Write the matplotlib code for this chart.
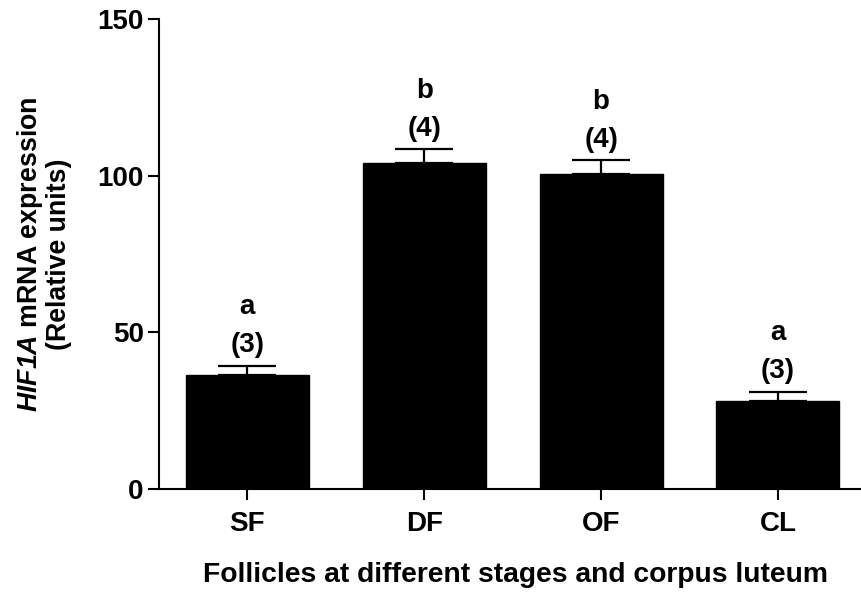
import matplotlib
matplotlib.use("Agg")
import matplotlib.pyplot as plt
import numpy as np

categories = ["SF", "DF", "OF", "CL"]
means = [36.4, 104.0, 100.5, 28.1]
sem = [3.0, 4.5, 4.5, 3.0]
letters = ["a", "b", "b", "a"]
ns = ["(3)", "(4)", "(4)", "(3)"]
yticks = [0, 50, 100, 150]

plt.rcParams['font.family'] = ['Liberation Sans', 'DejaVu Sans']
plt.rcParams['font.weight'] = 'bold'
plt.rcParams['mathtext.fontset'] = 'custom'
plt.rcParams['mathtext.rm'] = 'Liberation Sans:bold'
plt.rcParams['mathtext.bf'] = 'Liberation Sans:bold'
plt.rcParams['mathtext.it'] = 'Liberation Sans:italic:bold'
plt.rcParams['mathtext.bfit'] = 'Liberation Sans:italic:bold'

fig = plt.figure(figsize=(8.61, 5.92), dpi=100)
ax = fig.add_axes([0.1847, 0.174, 0.8153, 0.794])

x = np.arange(len(categories))
ax.bar(x, means, width=0.695, color='black', edgecolor='black', zorder=2)
ax.errorbar(x, means, yerr=[np.zeros(len(sem)), sem], fmt='none', ecolor='black',
            elinewidth=1.6, capsize=21, capthick=1.6, zorder=1)

for xi, m, s, l, n in zip(x, means, sem, letters, ns):
    top = m + s
    ax.annotate(n, (xi, top), xytext=(0, 9.5), textcoords='offset points',
                ha='center', va='baseline', fontsize=20, fontweight='bold')
    ax.annotate(l, (xi, top), xytext=(0, 37), textcoords='offset points',
                ha='center', va='baseline', fontsize=20, fontweight='bold')

ax.set_xlim(-0.5, 3.47)
ax.set_ylim(0, 150)
ax.set_yticks(yticks)
ax.set_yticklabels([str(v) for v in yticks], fontsize=20, fontweight='bold')
ax.set_xticks(x)
ax.set_xticklabels(categories, fontsize=20, fontweight='bold')

for side in ['top', 'right']:
    ax.spines[side].set_visible(False)
for side in ['left', 'bottom']:
    ax.spines[side].set_linewidth(1.5)
ax.tick_params(axis='both', width=1.5, length=8, direction='out')
ax.tick_params(axis='y', pad=3)
ax.tick_params(axis='x', pad=8)

ax.set_xlabel("Follicles at different stages and corpus luteum", fontsize=20.3,
              fontweight='bold', labelpad=20)
ax.xaxis.set_label_coords(0.508, -0.156)
ax.set_ylabel(r"$\mathbfit{HIF1A}$ mRNA expression" + "\n(Relative units)",
              fontsize=19.3, fontweight='bold', labelpad=18, linespacing=1.05)

fig.savefig("out.png", dpi=100)
